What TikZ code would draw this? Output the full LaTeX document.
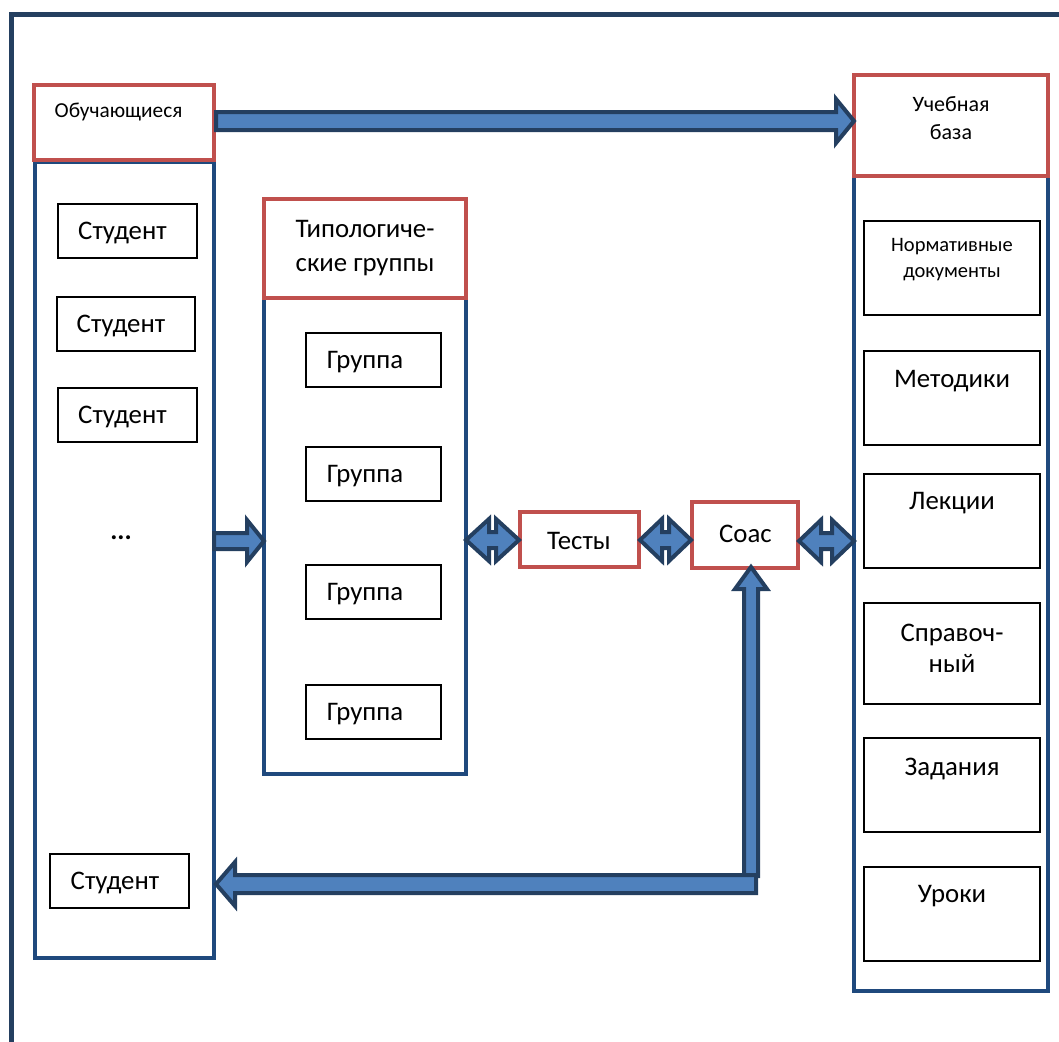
\documentclass[tikz,border=0pt]{standalone}
\usepackage{fontspec}
\setmainfont{Carlito}
\usetikzlibrary{calc}
\definecolor{redb}{HTML}{C0504D}
\definecolor{blueb}{HTML}{1F497D}
\definecolor{navy}{HTML}{243F60}
\definecolor{fillb}{HTML}{4F81BD}
\newcommand\fbig{\fontsize{26.8}{34}\selectfont}
\newcommand\fsmall{\fontsize{21.3}{28}\selectfont}
% block arrow pointing right: #1 tail, #2 tip, #3 shaft half, #4 head half, #5 head length
\newcommand\blkRight[5]{\draw[blk] ($(#1)+(0,-#3)$) -- ($(#2)+(-#5,-#3)$) -- ($(#2)+(-#5,-#4)$) -- (#2) -- ($(#2)+(-#5,#4)$) -- ($(#2)+(-#5,#3)$) -- ($(#1)+(0,#3)$) -- cycle;}
\newcommand\blkLeft[5]{\draw[blk] ($(#1)+(0,-#3)$) -- ($(#2)+(#5,-#3)$) -- ($(#2)+(#5,-#4)$) -- (#2) -- ($(#2)+(#5,#4)$) -- ($(#2)+(#5,#3)$) -- ($(#1)+(0,#3)$) -- cycle;}
\newcommand\blkUp[5]{\draw[blk] ($(#1)+(-#3,0)$) -- ($(#2)+(-#3,#5)$) -- ($(#2)+(-#4,#5)$) -- (#2) -- ($(#2)+(#4,#5)$) -- ($(#2)+(#3,#5)$) -- ($(#1)+(#3,0)$) -- cycle;}
\newcommand\blkBoth[5]{\draw[blk] (#1) -- ($(#1)+(#5,-#4)$) -- ($(#1)+(#5,-#3)$) -- ($(#2)+(-#5,-#3)$) -- ($(#2)+(-#5,-#4)$) -- (#2) -- ($(#2)+(-#5,#4)$) -- ($(#2)+(-#5,#3)$) -- ($(#1)+(#5,#3)$) -- ($(#1)+(#5,#4)$) -- cycle;}
\begin{document}
\begin{tikzpicture}[x=1pt,y=-1pt,
  every node/.style={inner sep=0pt, outer sep=0pt},
  redbox/.style={draw=redb, line width=4pt, fill=white, align=center, font=\fbig},
  column/.style={draw=blueb, line width=4pt, fill=white},
  item/.style={draw=black, line width=1.2pt, fill=white, font=\fbig, align=center, text depth=1pt},
  txt/.style={align=center},
  blk/.style={draw=navy, fill=fillb, line width=4pt, line join=miter, miter limit=10},
  frame/.style={draw=navy, line width=5pt}
]
\useasboundingbox (0,0) rectangle (1059,1041);
\draw[frame] (11,1050) -- (11,14.5) -- (1070,14.5);

% left column
\node[column, minimum width=179pt, minimum height=796pt] (lcol) at (124.5,560) {};
\node[redbox, minimum width=180pt, minimum height=75pt] (obuch) at (124,122.5) {};
\node[txt, font=\fsmall] (obucht) at (118.5,112) {Обучающиеся};
\node[item, minimum width=139pt, minimum height=54pt] (st1) at (127.5,231) {Студент\hspace*{10pt}};
\node[item, minimum width=138pt, minimum height=54pt] (st2) at (126,324) {Студент\hspace*{10pt}};
\node[item, minimum width=139pt, minimum height=54pt] (st3) at (127.5,415) {Студент\hspace*{10pt}};
\node[font=\fbig\bfseries] (dots) at (121,538) {...};
\node[item, minimum width=139pt, minimum height=54pt] (st4) at (119.5,881) {Студент\hspace*{9pt}};

% typological groups
\node[column, minimum width=202pt, minimum height=478pt] (tcol) at (365,535) {};
\node[redbox, minimum width=202pt, minimum height=99pt, font=\fontsize{26.8}{34}\selectfont] (typ) at (365,248) {Типологиче-\\ские группы};
\node[item, minimum width=135pt, minimum height=54pt] (g1) at (373.5,360) {Группа\hspace*{17pt}};
\node[item, minimum width=135pt, minimum height=54pt] (g2) at (373.5,474) {Группа\hspace*{17pt}};
\node[item, minimum width=135pt, minimum height=54pt] (g3) at (373.5,592) {Группа\hspace*{17pt}};
\node[item, minimum width=135pt, minimum height=54pt] (g4) at (373.5,712) {Группа\hspace*{17pt}};

% tests and coac
\node[redbox, minimum width=119pt, minimum height=55pt] (tests) at (579.5,539.5) {};
\node[txt, font=\fbig] (testst) at (579,541) {Тесты};
\node[redbox, minimum width=106pt, minimum height=66pt] (coac) at (745,535) {};
\node[txt, font=\fbig] (coact) at (745.5,534) {Соас};

% right column
\node[column, minimum width=194pt, minimum height=815pt] (rcol) at (951,583.5) {};
\node[redbox, minimum width=194pt, minimum height=101pt] (baza) at (951,125.5) {};
\node[txt, font=\fontsize{22}{28}\selectfont] (bazat) at (951,118) {Учебная\\база};
\node[item, minimum width=176pt, minimum height=94pt] (norm) at (952,268) {};
\node[txt, font=\fontsize{20.5}{26}\selectfont] (normt) at (952,260) {Нормативные\\документы};
\node[item, minimum width=176pt, minimum height=94pt] (met) at (952,398) {};
\node[txt, font=\fbig] (mett) at (952,381) {Методики};
\node[item, minimum width=176pt, minimum height=94pt] (lek) at (952,521) {};
\node[txt, font=\fbig] (lekt) at (952,503) {Лекции};
\node[item, minimum width=176pt, minimum height=101pt] (spr) at (952,653.5) {};
\node[txt, font=\fontsize{26.8}{31}\selectfont] (sprt) at (952,648.5) {Справоч-\\ный};
\node[item, minimum width=176pt, minimum height=94pt] (zad) at (952,785) {};
\node[txt, font=\fbig] (zadt) at (952,769) {Задания};
\node[item, minimum width=176pt, minimum height=94pt] (uro) at (952,914) {};
\node[txt, font=\fbig] (urot) at (952,896) {Уроки};

% arrows
\coordinate (a1s) at ($(obuch.east)+(2,-1.5)$);
\coordinate (a1e) at ($(baza.west |- a1s)+(0,0)$);
\blkRight{a1s}{a1e}{9}{22}{18}

\coordinate (a2s) at (lcol.east |- 0,541);
\coordinate (a2e) at (tcol.west |- a2s);
\blkRight{a2s}{a2e}{8}{21}{17}

\coordinate (a3s) at (tcol.east |- 0,540);
\coordinate (a3e) at ($(tests.west |- a3s)+(-1,0)$);
\blkBoth{a3s}{a3e}{8}{21}{23}

\coordinate (a4s) at ($(tests.east |- a3s)+(1,0)$);
\coordinate (a4e) at ($(coac.west |- a3s)+(-1,0)$);
\blkBoth{a4s}{a4e}{8}{21}{22}

\coordinate (a5s) at ($(coac.east |- 0,541)+(1,0)$);
\coordinate (a5e) at (rcol.west |- a5s);
\blkBoth{a5s}{a5e}{8}{21}{22}

\coordinate (turn) at (751,876);
\coordinate (upend) at ($(coac.south -| turn)+(0,-1)$);
\blkUp{turn}{upend}{7}{16}{22}

\coordinate (hs) at (756,884);
\coordinate (he) at ($(lcol.east |- hs)+(2,0)$);
\blkLeft{hs}{he}{9}{22}{19}
\end{tikzpicture}
\end{document}
